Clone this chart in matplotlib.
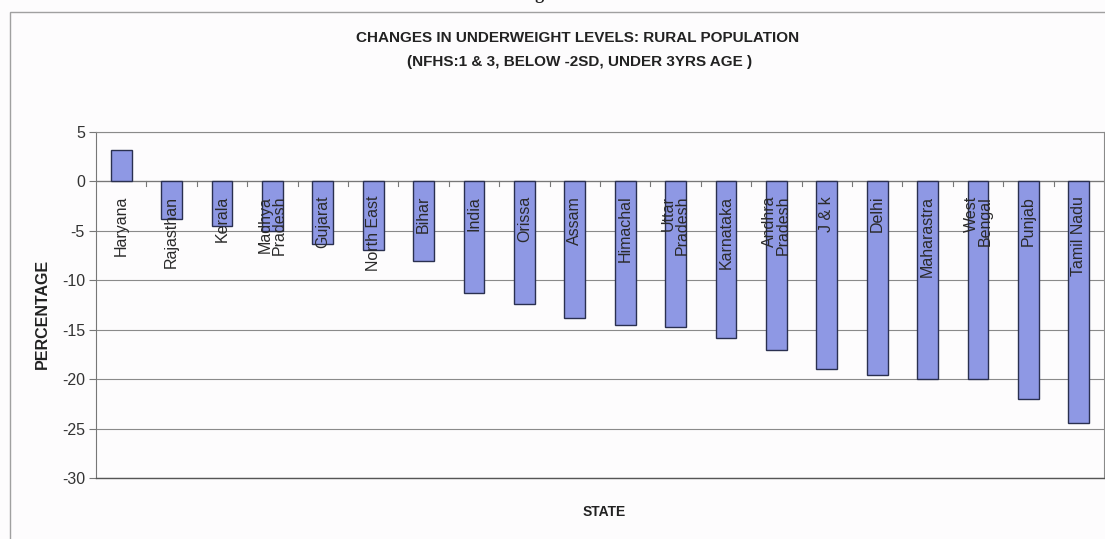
import matplotlib
matplotlib.use("Agg")
import matplotlib.pyplot as plt
from matplotlib.patches import Rectangle
import numpy as np

states = ["Haryana", "Rajasthan", "Kerala", "Madhya\nPradesh", "Gujarat",
          "North East", "Bihar", "India", "Orissa", "Assam", "Himachal",
          "Uttar\nPradesh", "Karnataka", "Andhra\nPradesh", "J & k", "Delhi",
          "Maharastra", "West\nBengal", "Punjab", "Tamil Nadu"]
change = [3.2, -3.8, -4.5, -5.0, -6.3, -6.9, -8.0, -11.3, -12.4, -13.8, -14.5,
          -14.7, -15.8, -17.1, -19.0, -19.6, -20.0, -20.0, -22.0, -24.4]
y_ticks = [5, 0, -5, -10, -15, -20, -25, -30]

plt.rcParams["font.family"] = ["Liberation Sans", "DejaVu Sans"]

W, H = 1105, 539
fig = plt.figure(figsize=(W / 100, H / 100), dpi=100)
fig.patch.set_facecolor("#fdfcfd")

# outer chart frame
fig.add_artist(Rectangle((10 / W, -0.1), 1.2, (H - 12) / H + 0.1,
                         transform=fig.transFigure, fill=False,
                         edgecolor="#a0a0a0", lw=1.0))

# page caption above the chart
fig.text(0.512, 1 - 3 / H, "Figure: 4.12", ha="center", va="bottom",
         fontsize=13, fontweight="bold", family="Liberation Serif", color="#222")

left, right, top, bottom = 96, 1104, 132, 478
ax = fig.add_axes([left / W, (H - bottom) / H, (right - left) / W, (bottom - top) / H])
ax.set_facecolor("#fdfcfd")

x = np.arange(len(states))
ax.bar(x, change, width=0.41, color="#8e98e4", edgecolor="#2a3050", linewidth=1.0, zorder=3)

ax.set_ylim(-30, 5)
ax.set_xlim(-0.5, len(states) - 0.5)
ax.set_yticks(y_ticks)
ax.set_yticklabels([str(v) for v in y_ticks], fontsize=11.5, color="#333")
ax.tick_params(axis="y", length=5, color="#777", pad=3)
ax.yaxis.grid(True, color="#8a8a8a", lw=0.8, zorder=0)

ax.set_xticks([])
# category tick marks along the zero line
for b in np.arange(0.5, len(states) - 0.5, 1.0):
    ax.plot([b, b], [0, -0.45], color="#777", lw=0.8, zorder=2)
ax.axhline(0, color="#777", lw=0.9, zorder=2)

for s in ["top", "right"]:
    ax.spines[s].set_color("#8a8a8a")
    ax.spines[s].set_linewidth(0.8)
ax.spines["left"].set_color("#777")
ax.spines["bottom"].set_color("#555")
ax.spines["bottom"].set_linewidth(1.0)

for xi, name in zip(x, states):
    ax.text(xi, -1.45, name, rotation=90, ha="center", va="top",
            multialignment="right", fontsize=11.5, color="#2a2a2a",
            linespacing=0.9, zorder=4)

ax.set_ylabel("PERCENTAGE", fontsize=11.5, fontweight="bold", color="#222")
ax.yaxis.set_label_coords((50 - left) / (right - left), (bottom - 314) / (bottom - top))
ax.set_xlabel("STATE", fontsize=10, fontweight="bold", color="#222")
ax.xaxis.set_label_coords((604 - left) / (right - left), -(505 - bottom) / (bottom - top))

fig.text(578 / W, (H - 38) / H, "CHANGES IN UNDERWEIGHT LEVELS: RURAL POPULATION",
         ha="center", va="center", fontsize=11, fontweight="bold", color="#222")
fig.text(580 / W, (H - 62) / H, "(NFHS:1 & 3, BELOW -2SD, UNDER 3YRS AGE )",
         ha="center", va="center", fontsize=11, fontweight="bold", color="#222")

fig.savefig("out.png", dpi=100, facecolor=fig.get_facecolor())
